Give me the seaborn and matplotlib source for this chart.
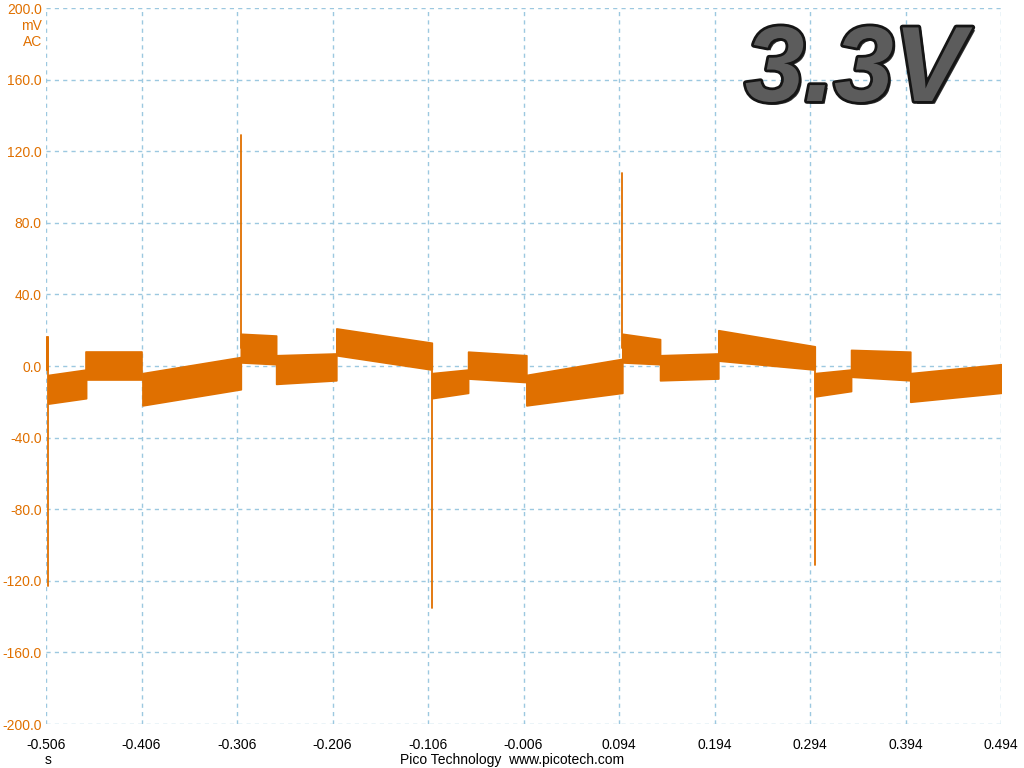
import numpy as np
import pandas as pd
import matplotlib
matplotlib.use("Agg")
import matplotlib.pyplot as plt
import matplotlib.patheffects as pe
import seaborn as sns

# Segments du signal (bandes de bruit) : temps en s, enveloppes en mV
seg_start = [-0.506, -0.5035, -0.464, -0.405, -0.302, -0.265, -0.202, -0.102,
             -0.064, -0.003, 0.0975, 0.137, 0.198, 0.299, 0.337, 0.399]
seg_end = [-0.5035, -0.464, -0.405, -0.302, -0.265, -0.202, -0.102, -0.064,
           -0.003, 0.0975, 0.137, 0.198, 0.299, 0.337, 0.399, 0.494]
lo_start = [-2, -21, -8, -22, 2, -10, 6, -18, -7, -22, 2, -8, 3, -17, -6, -20]
lo_end = [-2, -18, -8, -13, 1, -8, -2, -15, -9, -15, 1, -7, -2, -14, -8, -15]
hi_start = [16, -5, 8, -4, 18, 6, 21, -4, 8, -5, 18, 6, 20, -4, 9, -4]
hi_end = [16, -2, 8, 5, 17, 7, 13, -2, 6, 4, 15, 7, 11, -2, 8, 1]

# Pics de commutation
spike_t = [-0.5035, -0.302, -0.102, 0.0975, 0.299]
spike_base = [16, 10, -3, 10, -3]
spike_peak = [-123, 129, -135, 108, -111]

x_ticks = [-0.506, -0.406, -0.306, -0.206, -0.106, -0.006, 0.094, 0.194, 0.294, 0.394, 0.494]
y_ticks = [-200, -160, -120, -80, -40, 0, 40, 80, 120, 160, 200]

orange = "#E07000"
grid_col = "#9CC8E0"

sns.set_style("white")
plt.rcParams["font.family"] = ["Liberation Sans", "DejaVu Sans"]

fig = plt.figure(figsize=(10.24, 7.68), dpi=100)
ax = fig.add_axes([46 / 1024, 1 - 724 / 768, 955 / 1024, 716 / 768])

# Bandes de bruit
for i in range(len(seg_start)):
    ax.fill_between([seg_start[i], seg_end[i]], [lo_start[i], lo_end[i]],
                    [hi_start[i], hi_end[i]], color=orange, linewidth=1.2,
                    edgecolor=orange, zorder=3)

# Pics
spikes = pd.DataFrame({
    "t": [t for t in spike_t for _ in range(2)],
    "v": [v for pair in zip(spike_base, spike_peak) for v in pair],
    "id": [i for i in range(len(spike_t)) for _ in range(2)],
})
sns.lineplot(data=spikes, x="t", y="v", units="id", estimator=None,
             color=orange, linewidth=1.3, ax=ax, zorder=4, sort=False)

ax.set_xlim(x_ticks[0], x_ticks[-1])
ax.set_ylim(-200, 200)
ax.set_xticks(x_ticks)
ax.set_xticklabels([f"{t:.3f}" for t in x_ticks])
ax.set_yticks(y_ticks)
ax.set_yticklabels([f"{v:.1f}" for v in y_ticks])
ax.set_xlabel("")
ax.set_ylabel("")
ax.grid(True, color=grid_col, linestyle=(0, (3, 3)), linewidth=1)
for s in ax.spines.values():
    s.set_visible(False)
ax.tick_params(axis="both", length=0, labelsize=10)
ax.tick_params(axis="y", colors=orange, pad=3)
ax.tick_params(axis="x", colors="black", pad=10)

fig.text(42 / 1024, 1 - 26 / 768, "mV", color=orange, fontsize=10, ha="right", va="center")
fig.text(42 / 1024, 1 - 42 / 768, "AC", color=orange, fontsize=10, ha="right", va="center")
fig.text(48 / 1024, 1 - 760 / 768, "s", color="black", fontsize=10, ha="center", va="center")
fig.text(512 / 1024, 1 - 760 / 768, "Pico Technology  www.picotech.com", color="black",
         fontsize=10, ha="center", va="center")

fig.text(855 / 1024, 1 - 101 / 768, "3.3V", fontsize=77, fontweight="bold", style="italic",
         color="#5c5c5c", ha="center", va="baseline", zorder=10,
         path_effects=[pe.withSimplePatchShadow(offset=(2, -2), shadow_rgbFace="black", alpha=0.8),
                       pe.Stroke(linewidth=4, foreground="#151515"), pe.Normal()])

fig.savefig("out.png", dpi=100)
